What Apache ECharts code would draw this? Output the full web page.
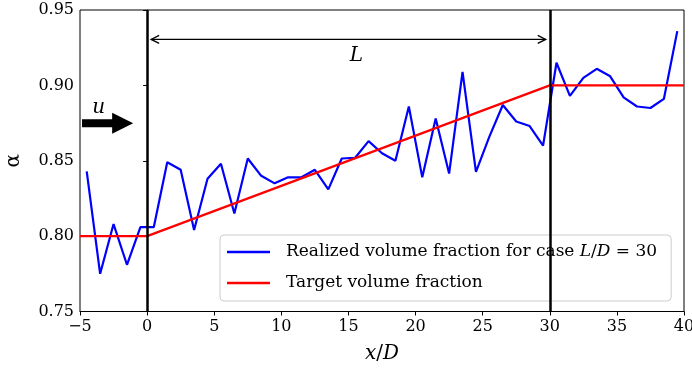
<!DOCTYPE html>
<html>
<head>
<meta charset="utf-8">
<script src="https://cdn.jsdelivr.net/npm/echarts@6/dist/echarts.min.js"></script>
<style>
  html, body { margin: 0; padding: 0; background: #fff; }
  #main { width: 692px; height: 378px; }
</style>
</head>
<body>
<div id="main"></div>
<script>
// realized volume fraction, sampled at cell centres x/D = -4.5 ... 39.5
var xPos = [-4.5, -3.5, -2.5, -1.5, -0.5, 0.5, 1.5, 2.5, 3.5, 4.5, 5.5, 6.5, 7.5, 8.5, 9.5,
  10.5, 11.5, 12.5, 13.5, 14.5, 15.5, 16.5, 17.5, 18.5, 19.5, 20.5, 21.5, 22.5, 23.5, 24.5,
  25.5, 26.5, 27.5, 28.5, 29.5, 30.5, 31.5, 32.5, 33.5, 34.5, 35.5, 36.5, 37.5, 38.5, 39.5];
var realized = [0.843, 0.775, 0.808, 0.781, 0.806, 0.806, 0.849, 0.844, 0.804, 0.838, 0.848, 0.815, 0.8515, 0.840, 0.835,
  0.839, 0.839, 0.844, 0.831, 0.8515, 0.852, 0.863, 0.855, 0.850, 0.886, 0.839, 0.878, 0.8415, 0.909, 0.8426,
  0.866, 0.887, 0.876, 0.873, 0.860, 0.915, 0.893, 0.905, 0.911, 0.906, 0.892, 0.886, 0.885, 0.891, 0.936];

// target profile
var targetX = [-5, 0, 30, 40];
var targetY = [0.80, 0.80, 0.90, 0.90];

// section boundaries
var bounds = [0, 30];

var xTicks = [-5, 0, 5, 10, 15, 20, 25, 30, 35, 40];
var yTicks = [0.75, 0.80, 0.85, 0.90, 0.95];

var serif = "'DejaVu Serif', 'Liberation Serif', serif";

var myChart = echarts.init(document.getElementById("main"));

var realizedData = xPos.map(function (x, i) { return [x, realized[i]]; });
var targetData = targetX.map(function (x, i) { return [x, targetY[i]]; });

var option = {
  animation: false,
  grid: {
    left: 80, right: 8, top: 10, bottom: 66.5,
    containLabel: false,
    outerBoundsMode: "none",
    show: true, borderColor: "#000", borderWidth: 1, backgroundColor: "transparent"
  },
  xAxis: {
    type: "value",
    min: xTicks[0], max: xTicks[xTicks.length - 1], interval: 5,
    axisLine: { show: true, lineStyle: { color: "#000", width: 1 } },
    axisTick: { show: true, inside: false, length: 4, lineStyle: { color: "#000" } },
    splitLine: { show: false },
    axisLabel: {
      color: "#000", fontFamily: serif, fontSize: 16, margin: 7,
      formatter: function (v) { return v < 0 ? "\u2212" + Math.abs(v) : String(v); }
    },
    name: "{i|x}/{i|D}",
    nameLocation: "middle",
    nameGap: 32,
    nameTextStyle: {
      color: "#000", fontFamily: serif, fontSize: 20,
      rich: { i: { fontStyle: "italic", fontFamily: serif, fontSize: 20, color: "#000" } }
    }
  },
  yAxis: {
    type: "value",
    min: yTicks[0], max: yTicks[yTicks.length - 1], interval: 0.05,
    axisLine: { show: true, lineStyle: { color: "#000", width: 1 } },
    axisTick: { show: true, inside: false, length: 4, lineStyle: { color: "#000" } },
    splitLine: { show: false },
    axisLabel: {
      color: "#000", fontFamily: serif, fontSize: 16, margin: 6,
      formatter: function (v) { return v.toFixed(2); }
    },
    name: "\u03b1",
    nameLocation: "middle",
    nameGap: 56,
    nameRotate: 90,
    nameTextStyle: { color: "#000", fontFamily: serif, fontSize: 20 }
  },
  legend: {
    orient: "vertical",
    left: 220, top: 235,
    padding: [7, 14, 8, 7],
    itemGap: 11,
    itemWidth: 43,
    itemHeight: 2.5,
    icon: "rect",
    borderColor: "#cccccc",
    borderWidth: 1,
    borderRadius: 4,
    backgroundColor: "rgba(255,255,255,0.8)",
    textStyle: {
      color: "#000", fontFamily: serif, fontSize: 17, lineHeight: 20, padding: [0, 0, 0, 11],
      rich: { i: { fontStyle: "italic", fontFamily: serif, fontSize: 17, color: "#000" } }
    },
    formatter: function (name) {
      if (name === "realized") return "Realized volume fraction for case {i|L}/{i|D} = 30";
      return "Target volume fraction";
    },
    data: ["realized", "target"]
  },
  series: [
    {
      name: "realized",
      type: "line",
      data: realizedData,
      showSymbol: false,
      symbol: "none",
      lineStyle: { color: "#0000ff", width: 2.2 },
      itemStyle: { color: "#0000ff" },
      z: 3
    },
    {
      name: "target",
      type: "line",
      data: targetData,
      showSymbol: false,
      symbol: "none",
      lineStyle: { color: "#ff0000", width: 2.2 },
      itemStyle: { color: "#ff0000" },
      z: 4
    },
    {
      name: "bounds",
      type: "line",
      data: [],
      silent: true,
      markLine: {
        silent: true,
        symbol: ["none", "none"],
        label: { show: false },
        lineStyle: { color: "#000", width: 2.5, type: "solid" },
        data: bounds.map(function (b) {
          return [{ coord: [b, yTicks[0]] }, { coord: [b, yTicks[yTicks.length - 1]] }];
        })
      },
      z: 5
    }
  ]
};

myChart.setOption(option);

// annotations placed in data space
function px(x, y) { return myChart.convertToPixel({ gridIndex: 0 }, [x, y]); }

var arrowY = 0.9305;
var a0 = px(0.3, arrowY), a1 = px(29.7, arrowY);
var h = 8, w = 4;
var lPos = px(15.6, 0.9195);
var uPos = px(-3.6, 0.8848);

// big flow arrow
var fy = 0.8748;
var f0 = px(-4.85, fy), f1 = px(-1.04, fy);
var shaft = 4, head = 10.5, headLen = 21;

myChart.setOption({
  graphic: [
    {
      type: "line", z: 10,
      shape: { x1: a0[0], y1: a0[1], x2: a1[0], y2: a1[1] },
      style: { stroke: "#000", lineWidth: 1.3 }
    },
    {
      type: "polyline", z: 10,
      shape: { points: [[a0[0] + h, a0[1] - w], [a0[0], a0[1]], [a0[0] + h, a0[1] + w]] },
      style: { stroke: "#000", lineWidth: 1.3, fill: null }
    },
    {
      type: "polyline", z: 10,
      shape: { points: [[a1[0] - h, a1[1] - w], [a1[0], a1[1]], [a1[0] - h, a1[1] + w]] },
      style: { stroke: "#000", lineWidth: 1.3, fill: null }
    },
    {
      type: "text", z: 10, x: lPos[0], y: lPos[1],
      style: { text: "L", fontFamily: serif, fontStyle: "italic", fontSize: 20, fill: "#000", align: "center", verticalAlign: "middle" }
    },
    {
      type: "text", z: 10, x: uPos[0], y: uPos[1],
      style: { text: "u", fontFamily: serif, fontStyle: "italic", fontSize: 20, fill: "#000", align: "center", verticalAlign: "middle" }
    },
    {
      type: "polygon", z: 10,
      shape: {
        points: [
          [f0[0], f0[1] - shaft], [f1[0] - headLen, f0[1] - shaft], [f1[0] - headLen, f0[1] - head],
          [f1[0], f1[1]],
          [f1[0] - headLen, f0[1] + head], [f1[0] - headLen, f0[1] + shaft], [f0[0], f0[1] + shaft]
        ]
      },
      style: { fill: "#000", stroke: null }
    }
  ]
});
</script>
</body>
</html>
